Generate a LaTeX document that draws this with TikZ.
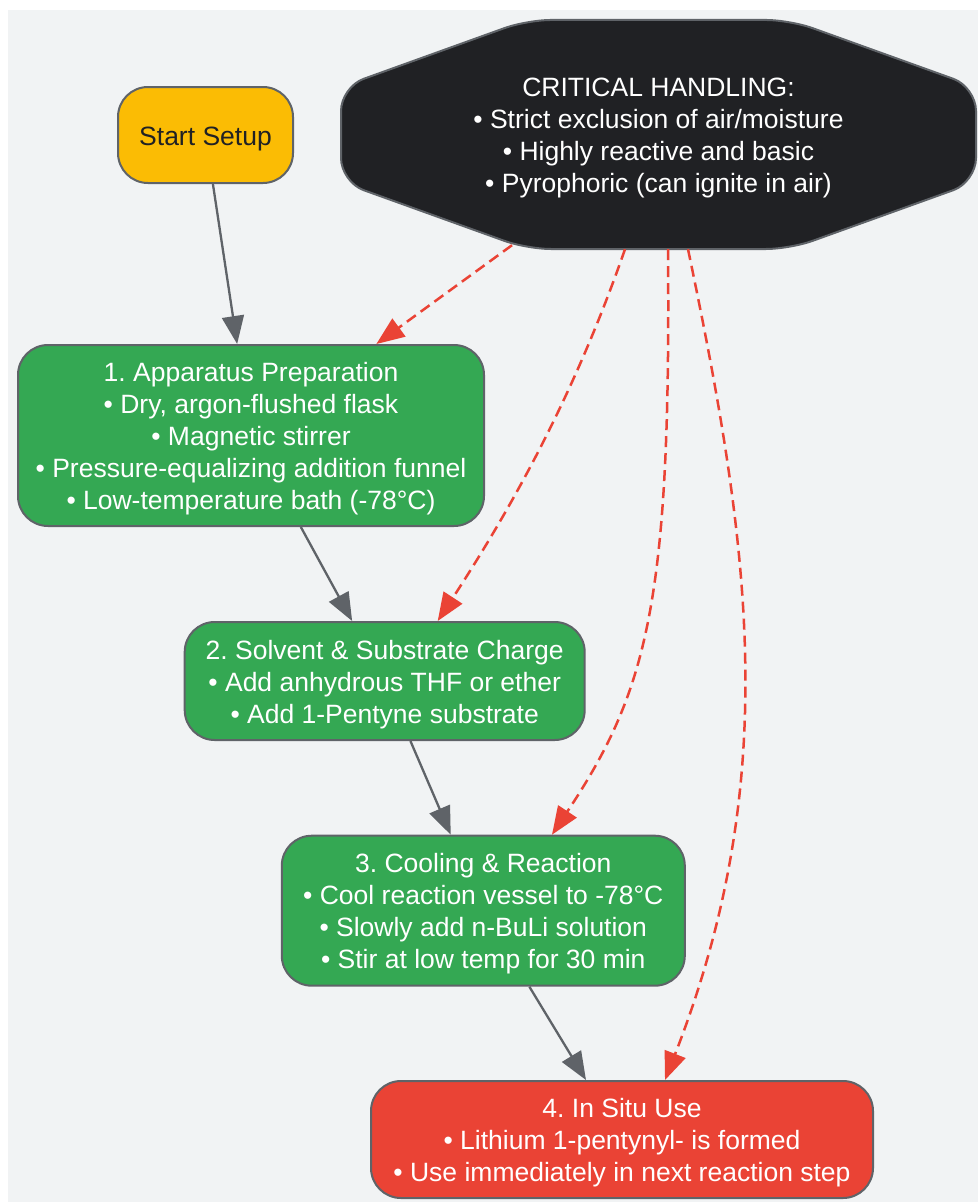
\documentclass[tikz,border=0pt]{standalone}
\usepackage{fontspec}
\setmainfont{Liberation Sans}
\usetikzlibrary{arrows.meta,calc,backgrounds}

\definecolor{bgcol}{HTML}{F1F3F4}
\definecolor{edgegray}{HTML}{5F6368}
\definecolor{stepgreen}{HTML}{34A853}
\definecolor{warnred}{HTML}{EA4335}
\definecolor{startyellow}{HTML}{FBBC04}
\definecolor{critblack}{HTML}{202124}

% #1 = number of text lines, the strut lowers the text a little
\tikzset{
  boxtext/.style={align=center, text=white, inner sep=0pt,
    font=\fontsize{26.5}{32}\selectfont\frenchspacing,
    execute at begin node={\rule{0pt}{25.5pt+32pt*(#1-1)}}},
  box/.style={boxtext=#1, draw=edgegray, line width=2pt, rounded corners=30pt},
  stepbox/.style={box=#1, fill=stepgreen},
  flow/.style={draw=edgegray, line width=2.3pt, -{Triangle[length=28pt,width=22pt]}},
  warn/.style={draw=warnred, line width=2.5pt, dash pattern=on 11pt off 6pt,
    -{Triangle[length=28pt,width=22pt]}},
}
\usepackage{calc}

\begin{document}
\begin{tikzpicture}[x=1pt,y=-1pt]
  \useasboundingbox (0,0) rectangle (978,1202);

  \node[box=1, fill=startyellow, text=critblack, minimum width=175pt, minimum height=96pt] (start) at (205.5,135) {Start Setup};
  \node[boxtext=4, minimum width=635pt, minimum height=229pt] (crit) at (658.5,134.5)
    {CRITICAL HANDLING:\\• Strict exclusion of air/moisture\\• Highly reactive and basic\\• Pyrophoric (can ignite in air)};

  \node[stepbox=5, minimum width=466pt, minimum height=181pt] (prep) at (251,435.5)
    {1. Apparatus Preparation\\• Dry, argon-flushed flask\\• Magnetic stirrer\\• Pressure-equalizing addition funnel\\• Low-temperature bath (-78°C)};
  \node[stepbox=3, minimum width=400pt, minimum height=118pt] (charge) at (384.7,681)
    {2. Solvent \& Substrate Charge\\• Add anhydrous THF or ether\\• Add 1-Pentyne substrate};
  \node[stepbox=4, minimum width=403pt, minimum height=150pt] (cool) at (483.3,910.7)
    {3. Cooling \& Reaction\\• Cool reaction vessel to -78°C\\• Slowly add n-BuLi solution\\• Stir at low temp for 30 min};
  \node[box=3, fill=warnred, minimum width=502pt, minimum height=117pt] (use) at (622,1139.5)
    {4. In Situ Use\\• Lithium 1-pentynyl- is formed\\• Use immediately in next reaction step};

  % octagon behind the critical note
  \begin{scope}[on background layer]
    \fill[bgcol] (8,10) rectangle (978,1202);
    \filldraw[fill=critblack, draw=edgegray, line width=2pt, rounded corners=24pt]
      (crit.north) -- ($(crit.center)+(131.5pt,114.5pt)$) -- ($(crit.center)+(317.5pt,47.5pt)$)
      -- ($(crit.center)+(317.5pt,-47.5pt)$) -- ($(crit.center)+(131.5pt,-114.5pt)$)
      -- ($(crit.center)+(-131.5pt,-114.5pt)$) -- ($(crit.center)+(-317.5pt,-47.5pt)$)
      -- ($(crit.center)+(-317.5pt,47.5pt)$) -- ($(crit.center)+(-131.5pt,114.5pt)$)
      -- (crit.north);
  \end{scope}

  \draw[flow] (start) -- (prep);
  \draw[flow] (prep) -- (charge);
  \draw[flow] (charge) -- (cool);
  \draw[flow] (cool) -- (use);

  \draw[warn] ([xshift=-146.5pt,yshift=4pt]crit.south) -- (prep);
  \draw[warn] ([xshift=-33.5pt]crit.south) .. controls (579.5,380) and (522.5,491) .. ([xshift=53pt]charge.north);
  \draw[warn] ([xshift=9.5pt]crit.south) .. controls (671,600) and (648,690) .. ([xshift=68.7pt]cool.north);
  \draw[warn] ([xshift=29.5pt]crit.south) .. controls (751,550) and (782,780) .. ([xshift=43pt]use.north);
\end{tikzpicture}
\end{document}
